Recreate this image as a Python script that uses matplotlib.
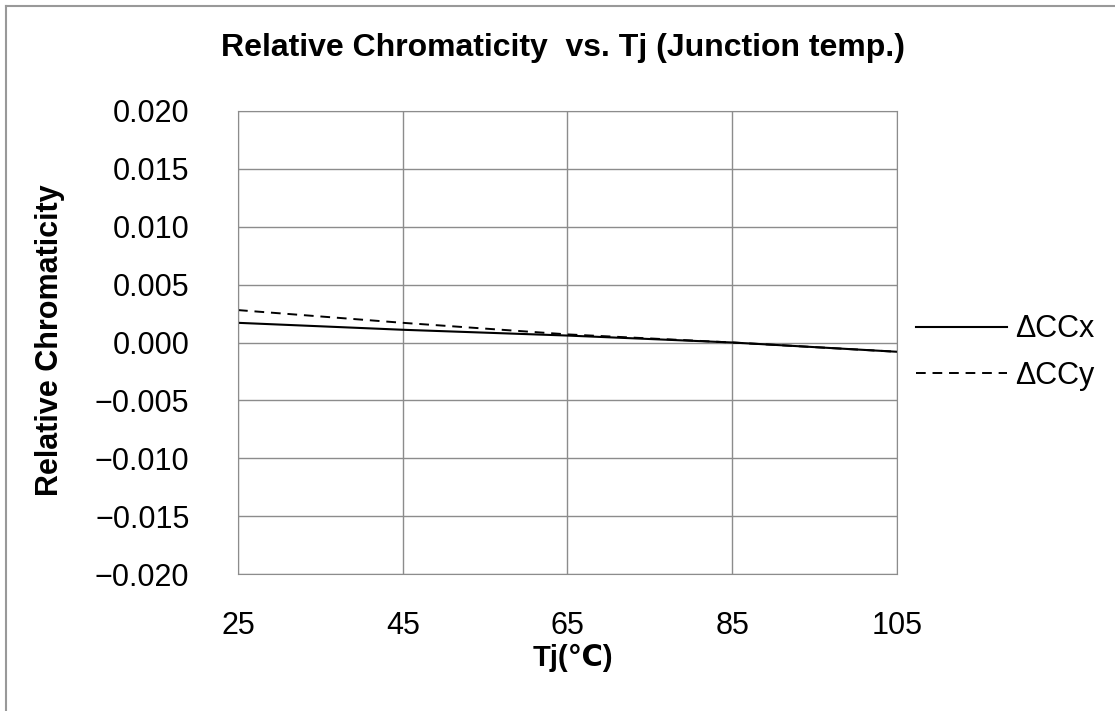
import matplotlib
matplotlib.use("Agg")
import matplotlib.pyplot as plt
from matplotlib.lines import Line2D

# junction temperature (C) and relative chromaticity shifts
tj = [25, 45, 65, 85, 105]
dccx = [0.0017, 0.0011, 0.0006, 0.0000, -0.0008]
dccy = [0.0028, 0.0017, 0.0007, 0.0000, -0.0008]

x_ticks = [25, 45, 65, 85, 105]
y_ticks = [0.020, 0.015, 0.010, 0.005, 0.000, -0.005, -0.010, -0.015, -0.020]

plt.rcParams['font.family'] = ['Liberation Sans', 'DejaVu Sans']

fig = plt.figure(figsize=(11.15, 7.11), dpi=100)
ax = fig.add_axes([238/1115, 1-574/711, (897-238)/1115, (574-111)/711])

ax.plot(tj, dccx, color="black", lw=1.5, label="ΔCCx")
ax.plot(tj, dccy, color="black", lw=1.4, ls=(0, (5, 3.5)), label="ΔCCy")

ax.set_xlim(25, 105)
ax.set_ylim(-0.020, 0.020)
ax.set_xticks(x_ticks)
ax.set_yticks(y_ticks)
ax.set_yticklabels([f"{v:.3f}".replace("-", "\u2212") for v in y_ticks])
ax.tick_params(length=0, labelsize=22)
ax.tick_params(axis="y", pad=35)
ax.tick_params(axis="x", pad=27)
ax.grid(True, color="#8c8c8c", lw=1)
for s in ax.spines.values():
    s.set_color("#8c8c8c")

ax.legend(loc="center left", bbox_to_anchor=(1.010, 0.478), frameon=False,
          fontsize=22, handlelength=3.0, handletextpad=0.25, labelspacing=0.55,
          borderaxespad=0)

fig.text(563/1115, 1-48/711, "Relative Chromaticity  vs. Tj (Junction temp.)",
         ha="center", va="center", fontsize=23, fontweight="bold")
fig.text(50/1115, 1-340/711, "Relative Chromaticity", rotation=90,
         ha="center", va="center", fontsize=22, fontweight="bold")
fig.text(573/1115, 1-658/711, "Tj(℃)", ha="center", va="center",
         fontsize=21, fontweight="bold")

# outer frame (left and top edges visible)
fig.add_artist(Line2D([6/1115, 6/1115], [0, 1-6/711], color="#999999", lw=1.5))
fig.add_artist(Line2D([6/1115, 1], [1-6/711, 1-6/711], color="#999999", lw=1.5))

fig.savefig("out.png", dpi=100)
